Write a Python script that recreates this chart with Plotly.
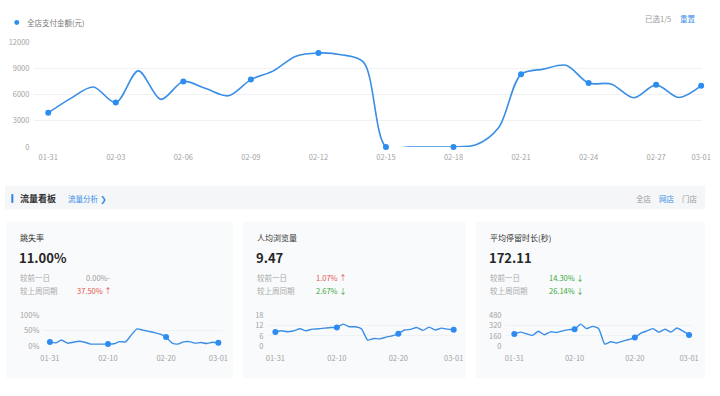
import plotly.graph_objects as go

W, H = 720, 396
FONT = "Noto Sans CJK SC, Noto Sans, sans-serif"

# ---------------- data ----------------
dates = ["01-31", "02-01", "02-02", "02-03", "02-04", "02-05", "02-06", "02-07", "02-08", "02-09",
         "02-10", "02-11", "02-12", "02-13", "02-14", "02-15", "02-16", "02-17", "02-18", "02-19",
         "02-20", "02-21", "02-22", "02-23", "02-24", "02-25", "02-26", "02-27", "02-28", "03-01"]

pay_amount = [3900, 5550, 6850, 5070, 8700, 5440, 7480, 6670, 5850, 7700,
              8700, 10370, 10740, 10550, 9700, 0, 0, 0, 0, 250,
              2200, 8300, 8900, 9330, 7300, 7200, 5630, 7100, 5650, 7000]
main_marker_idx = [0, 3, 6, 9, 12, 15, 18, 21, 24, 27, 29]
main_xticks = ["01-31", "02-03", "02-06", "02-09", "02-12", "02-15", "02-18", "02-21", "02-24", "02-27", "03-01"]
main_yticks = [0, 3000, 6000, 9000, 12000]
main_yticktext = ["0", "3000", "6000", "9000", "12000"]

bounce_rate = [14, 11, 20, 10, 13, 16, 13, 7, 7, 7,
               7, 8, 15, 14, 36, 56, 52, 48, 44, 39,
               30, 11, 7, 14, 15, 10, 12, 9, 13, 11]
pageviews = [8.3, 9.0, 8.4, 9.0, 10.1, 9.0, 9.9, 10.1, 10.5, 10.9,
             10.9, 12.8, 11.3, 11.3, 10.1, 3.6, 4.5, 4.3, 5.3, 6.0,
             7.3, 9.4, 9.8, 10.9, 9.2, 11.1, 9.4, 10.5, 9.9, 9.5]
stay_time = [188, 218, 193, 168, 233, 178, 223, 213, 238, 257,
             262, 342, 272, 307, 272, 35, 69, 50, 79, 104,
             134, 203, 238, 272, 218, 262, 218, 282, 233, 175]
mini_marker_idx = [0, 10, 20, 29]
mini_xticks = ["01-31", "02-10", "02-20", "03-01"]

card_titles = ["跳失率", "人均浏览量", "平均停留时长(秒)"]
card_values = ["11.00%", "9.47", "172.11"]
day_labels = ["较前一日", "较上周同期"]
day_changes = [["0.00%-", "37.50% ↑"], ["1.07% ↑", "2.67% ↓"], ["14.30% ↓", "26.14% ↓"]]
change_kinds = [["flat", "up"], ["up", "down"], ["down", "down"]]
mini_series = [bounce_rate, pageviews, stay_time]
mini_yticks = [[0, 50, 100], [0, 6, 12, 18], [0, 160, 320, 480]]
mini_yticktext = [["0%", "50%", "100%"], ["0", "6", "12", "18"], ["0", "160", "320", "480"]]
mini_yrange = [[0, 100], [0, 18], [0, 480]]

# ---------------- styles ----------------
BLUE = "#3a8ee6"
MARK = "#2d8cf0"
GRID = "#f0f1f3"
TICK = "#a3a3a3"
CARD_BG = "#f9fafb"
BAND_BG = "#f5f6f8"
kind_color = {"flat": "#9a9a9a", "up": "#e5534b", "down": "#3aa83f"}


def px(x):
    return x / W


def py(y):
    return 1 - y / H


def xrange_for(L, R, x0, x29, n=30):
    ppd = (x29 - x0) / (n - 1)
    return [-(x0 - L) / ppd, (n - 1) + (R - x29) / ppd]


fig = go.Figure()

# ---------------- main chart ----------------
fig.add_trace(go.Scatter(
    x=dates, y=pay_amount, mode="lines",
    line=dict(color=BLUE, width=1.6, shape="spline", smoothing=0.9),
    hoverinfo="skip", showlegend=False, xaxis="x", yaxis="y"))
fig.add_trace(go.Scatter(
    x=[dates[i] for i in main_marker_idx], y=[pay_amount[i] for i in main_marker_idx],
    mode="markers", marker=dict(color=MARK, size=6),
    cliponaxis=False, showlegend=False, xaxis="x", yaxis="y"))

mL, mR = 32, 711
layout_axes = {}
layout_axes["xaxis"] = dict(
    domain=[px(mL), px(mR)], range=xrange_for(mL, mR, 46, 710), type="category",
    categoryorder="array", categoryarray=dates,
    tickvals=main_xticks, ticktext=main_xticks, showgrid=False, zeroline=False,
    showline=False, ticks="", ticklabelstandoff=5,
    tickfont=dict(size=7.5, color=TICK, family=FONT), anchor="y")
layout_axes["yaxis"] = dict(
    domain=[py(145), py(37)], range=[0, 12000], tickvals=main_yticks, ticktext=main_yticktext,
    showgrid=True, gridcolor=GRID, gridwidth=1, zeroline=False, showline=False,
    ticks="", ticklabelstandoff=4,
    tickfont=dict(size=7.5, color=TICK, family=FONT), anchor="x")

shapes = []
annotations = []

# legend dot + text
shapes.append(dict(type="circle", xref="paper", yref="paper",
                   x0=px(11.5), x1=px(16.5), y0=py(19.5), y1=py(14.5),
                   fillcolor=MARK, line=dict(width=0)))
annotations.append(dict(text="全店支付金额(元)", x=px(22), y=py(17), xref="paper", yref="paper",
                        xanchor="left", yanchor="middle", showarrow=False,
                        font=dict(size=7.5, color="#777", family=FONT)))
annotations.append(dict(text="已选1/5", x=px(681), y=py(13), xref="paper", yref="paper",
                        xanchor="right", yanchor="middle", showarrow=False,
                        font=dict(size=7.5, color="#999", family=FONT)))
annotations.append(dict(text="重置", x=px(686), y=py(13), xref="paper", yref="paper",
                        xanchor="left", yanchor="middle", showarrow=False,
                        font=dict(size=7.5, color="#3a8ee6", family=FONT)))

# section band
shapes.append(dict(type="rect", xref="paper", yref="paper", x0=px(2), x1=px(714),
                   y0=py(209), y1=py(185), fillcolor=BAND_BG, line=dict(width=0), layer="below"))
shapes.append(dict(type="rect", xref="paper", yref="paper", x0=px(8.5), x1=px(10.5),
                   y0=py(202.5), y1=py(193.5), fillcolor="#2f7ff0", line=dict(width=0)))
annotations.append(dict(text="<b>流量看板</b>", x=px(15), y=py(198), xref="paper", yref="paper",
                        xanchor="left", yanchor="middle", showarrow=False,
                        font=dict(size=9, color="#333", family=FONT)))
annotations.append(dict(text="流量分析 ❯", x=px(64), y=py(198), xref="paper", yref="paper",
                        xanchor="left", yanchor="middle", showarrow=False,
                        font=dict(size=7.5, color="#3a8ee6", family=FONT)))
for txt, xx, col in [("全店", 642, "#999"), ("网店", 665, "#3a8ee6"), ("门店", 688, "#999")]:
    annotations.append(dict(text=txt, x=px(xx), y=py(198), xref="paper", yref="paper",
                            xanchor="left", yanchor="middle", showarrow=False,
                            font=dict(size=7.5, color=col, family=FONT)))

# ---------------- cards ----------------
cards = [
    dict(x0=3, x1=234, tx=15, cx=73, dom=(41, 224), p0=47.7, p29=219.0),
    dict(x0=244, x1=471, tx=256, cx=316, dom=(269, 462), p0=277.0, p29=458.3),
    dict(x0=481, x1=714, tx=493, cx=553, dom=(511, 701), p0=520.0, p29=697.7),
]
for k, c in enumerate(cards):
    shapes.append(dict(type="rect", xref="paper", yref="paper", x0=px(c["x0"]), x1=px(c["x1"]),
                       y0=py(383), y1=py(222), fillcolor=CARD_BG, line=dict(width=0), layer="below"))
    annotations.append(dict(text=card_titles[k], x=px(c["tx"]), y=py(238.5), xref="paper", yref="paper",
                            xanchor="left", yanchor="middle", showarrow=False,
                            font=dict(size=8, color="#333", family=FONT)))
    annotations.append(dict(text="<b>" + card_values[k] + "</b>", x=px(c["tx"] - 1), y=py(259), xref="paper",
                            yref="paper", xanchor="left", yanchor="middle", showarrow=False,
                            font=dict(size=13, color="#262626", family=FONT)))
    for r, lab in enumerate(day_labels):
        yy = 279 + r * 14
        annotations.append(dict(text=lab, x=px(c["tx"]), y=py(yy), xref="paper", yref="paper",
                                xanchor="left", yanchor="middle", showarrow=False,
                                font=dict(size=7.5, color="#aaa", family=FONT)))
        cx = c["cx"] + (9 if (k == 0 and r == 0) else 0)
        annotations.append(dict(text=day_changes[k][r], x=px(cx), y=py(yy), xref="paper", yref="paper",
                                xanchor="left", yanchor="middle", showarrow=False,
                                font=dict(size=7.5, color=kind_color[change_kinds[k][r]], family=FONT)))

    xa = "x%d" % (k + 2)
    ya = "y%d" % (k + 2)
    ser = mini_series[k]
    fig.add_trace(go.Scatter(
        x=dates, y=ser, mode="lines",
        line=dict(color=BLUE, width=1.4, shape="spline", smoothing=0.5),
        hoverinfo="skip", showlegend=False, xaxis=xa, yaxis=ya))
    fig.add_trace(go.Scatter(
        x=[dates[i] for i in mini_marker_idx], y=[ser[i] for i in mini_marker_idx],
        mode="markers", marker=dict(color=MARK, size=6), cliponaxis=False,
        showlegend=False, xaxis=xa, yaxis=ya))
    L, R = c["dom"]
    layout_axes["xaxis%d" % (k + 2)] = dict(
        domain=[px(L), px(R)], range=xrange_for(L, R, c["p0"], c["p29"]), type="category",
        categoryorder="array", categoryarray=dates,
        tickvals=mini_xticks, ticktext=mini_xticks, showgrid=False, zeroline=False,
        showline=False, ticks="", ticklabelstandoff=6,
        tickfont=dict(size=7.5, color=TICK, family=FONT), anchor=ya)
    layout_axes["yaxis%d" % (k + 2)] = dict(
        domain=[py(350), py(318)], range=mini_yrange[k], tickvals=mini_yticks[k],
        ticktext=mini_yticktext[k], showgrid=True, gridcolor=GRID, zeroline=False,
        showline=False, ticks="", ticklabelstandoff=3,
        tickfont=dict(size=7.5, color=TICK, family=FONT), anchor=xa)

fig.update_layout(
    width=W, height=H, margin=dict(l=0, r=0, t=0, b=0),
    paper_bgcolor="white", plot_bgcolor="rgba(0,0,0,0)",
    font=dict(family=FONT), showlegend=False,
    shapes=shapes, annotations=annotations, **layout_axes)

fig.write_html("out.html", config={"displayModeBar": False},
               post_script="document.documentElement.style.overflow='hidden';"
                           "document.body.style.margin='0';document.body.style.overflow='hidden';")
